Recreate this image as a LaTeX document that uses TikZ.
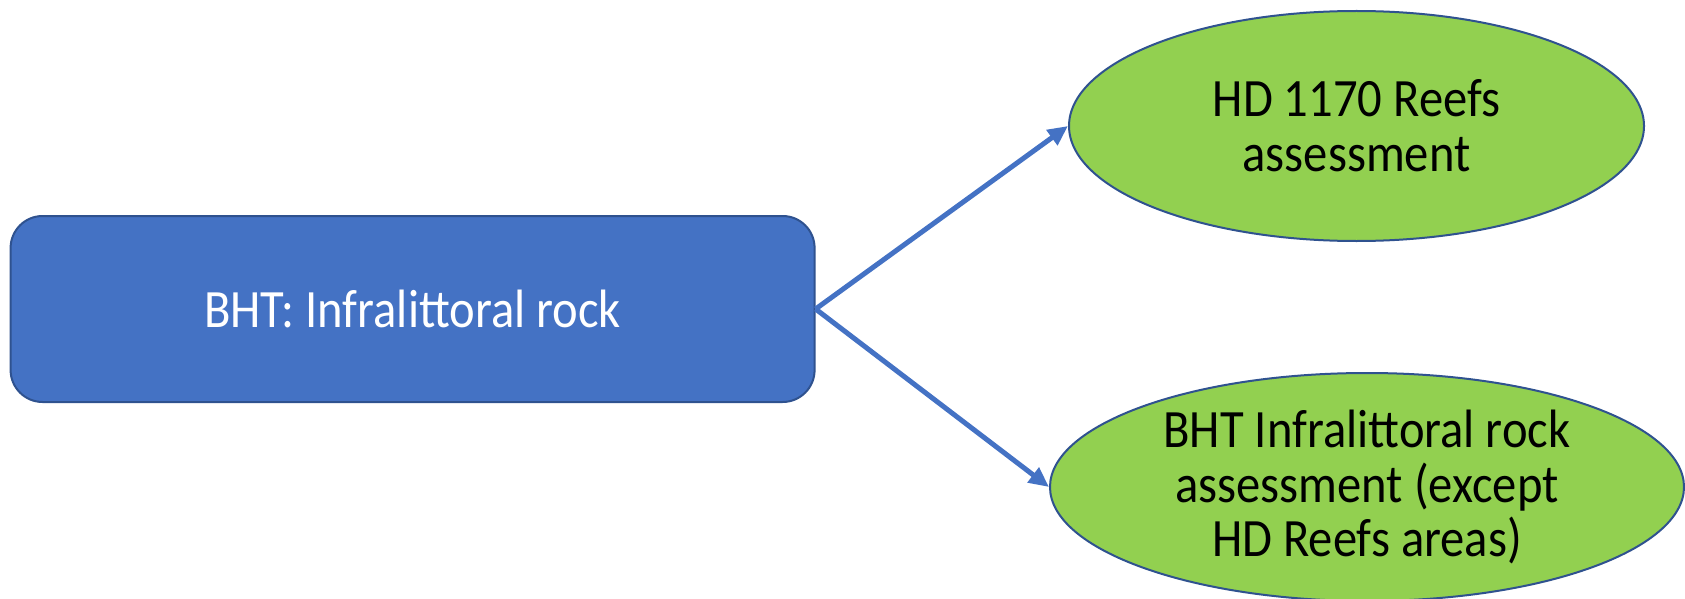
\documentclass[tikz,border=0pt]{standalone}
\usepackage{fontspec}
\setmainfont[FakeStretch=0.9]{Carlito}
\usetikzlibrary{shapes.geometric,arrows.meta}
\definecolor{boxblue}{HTML}{4472C4}
\definecolor{edgeblue}{HTML}{2F528F}
\definecolor{leafgreen}{HTML}{92D050}
\tikzset{
  srcbox/.style={draw=edgeblue, fill=boxblue, line width=1pt, rounded corners=16pt,
    minimum width=402pt, minimum height=93pt, inner sep=0pt, text=white,
    font=\fontsize{27pt}{27pt}\selectfont},
  leaf/.style={ellipse, draw=edgeblue, fill=leafgreen, line width=1pt, inner sep=0pt,
    text=black, align=center, font=\fontsize{27pt}{27.4pt}\selectfont},
  link/.style={draw=boxblue, line width=2.5pt, -{Triangle[length=10pt,width=9pt]}},
}
\begin{document}
\begin{tikzpicture}[x=0.5pt,y=-0.5pt]
\useasboundingbox (0,0) rectangle (1685,599);
\node[srcbox] (src) at (412.6,309) {BHT: Infralittoral rock};
\node[leaf, minimum width=287.5pt, minimum height=115pt] (reefs) at (1356.5,126) {HD 1170 Reefs\\assessment};
\node[leaf, minimum width=317pt, minimum height=114pt] (rock) at (1367,487) {BHT Infralittoral rock\\assessment (except\\HD Reefs areas)};
\draw[link] (src.east) -- (reefs.west);
\draw[link] (src.east) -- (rock.west);
\end{tikzpicture}
\end{document}
